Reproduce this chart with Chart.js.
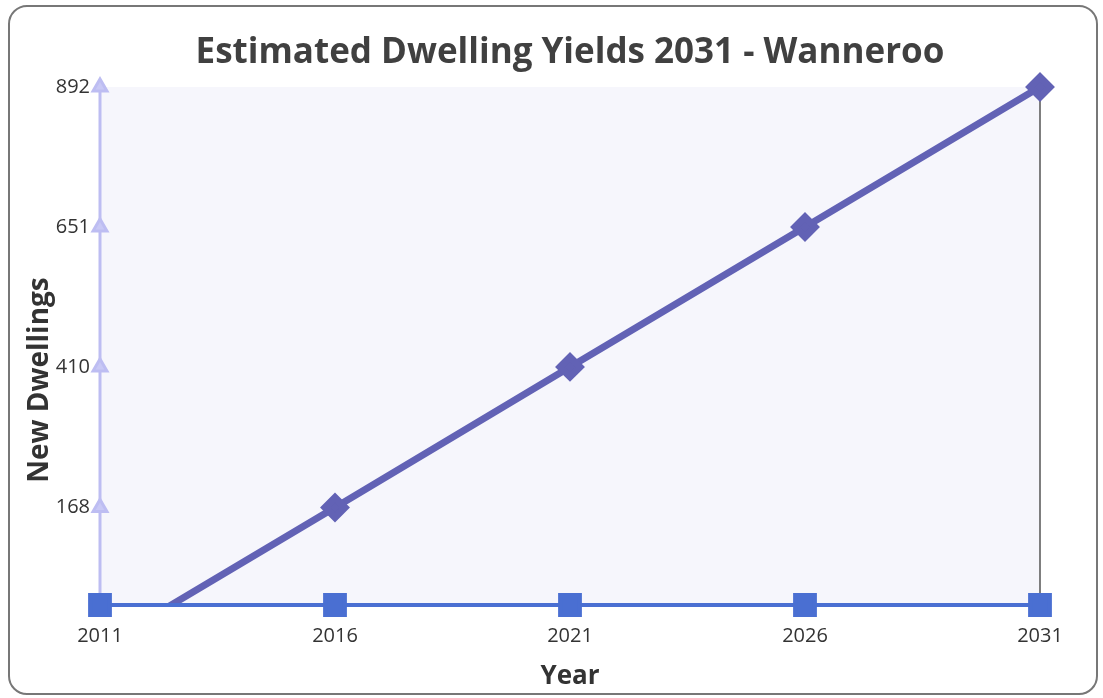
<!DOCTYPE html>
<html>
<head>
<meta charset="utf-8">
<script src="https://cdn.jsdelivr.net/npm/chart.js@4"></script>
<style>
  html, body { margin: 0; padding: 0; background: #fff; }
  #wrap { width: 1103px; height: 698px; }
</style>
</head>
<body>
<div id="wrap"><canvas id="container"></canvas></div>
<script>
const years = ['2011', '2016', '2021', '2026', '2031'];
const newDwellings = [-73, 168, 410, 651, 892];
const baseline = [0, 0, 0, 0, 0];
const yTicks = [168, 410, 651, 892];

const font = 'Open Sans';

// plot background, y title (sits lower than the scale centre) and rounded border
const frame = {
    id: 'frame',
    beforeDraw(chart) {
        const { ctx, chartArea } = chart;
        ctx.save();
        ctx.fillStyle = '#f6f6fc';
        ctx.fillRect(chartArea.left, chartArea.top, chartArea.right - chartArea.left, chartArea.bottom - chartArea.top);
        ctx.restore();
    },
    afterDraw(chart) {
        const ctx = chart.ctx;
        ctx.save();
        ctx.translate(40, 380);
        ctx.rotate(-Math.PI / 2);
        ctx.fillStyle = '#333';
        ctx.font = 'bold 28px "' + font + '"';
        ctx.textAlign = 'center';
        ctx.textBaseline = 'middle';
        ctx.fillText('New Dwellings', 0, 0);
        ctx.restore();

        ctx.save();
        ctx.strokeStyle = '#777';
        ctx.lineWidth = 2;
        ctx.beginPath();
        ctx.roundRect(9, 6, 1088, 688, 18);
        ctx.stroke();
        ctx.restore();
    }
};

const stateChart = new Chart(document.getElementById('container'), {
    type: 'line',
    data: {
        labels: years,
        datasets: [
            {
                label: 'baseline',
                data: baseline,
                borderColor: '#4a6fd2',
                backgroundColor: '#4a6fd2',
                borderWidth: 4,
                pointStyle: 'rect',
                pointRadius: 14,
                tension: 0,
                clip: false
            },
            {
                label: 'New Dwellings',
                data: newDwellings,
                borderColor: '#6262b5',
                backgroundColor: '#6262b5',
                borderWidth: 7,
                pointStyle: 'rectRot',
                pointRadius: 10,
                tension: 0,
                clip: { left: false, top: false, right: false, bottom: 0 }
            },
            {
                label: 'axis',
                data: [{ x: years[0], y: 0 }].concat(yTicks.map(v => ({ x: years[0], y: v }))),
                borderColor: '#bdbdf2',
                backgroundColor: '#c8c8f5',
                borderWidth: 3,
                pointStyle: 'triangle',
                pointRadius: [0, 8, 8, 8, 8],
                tension: 0,
                clip: false
            },
            {
                label: 'drop',
                data: [
                    { x: years[years.length - 1], y: 0 },
                    { x: years[years.length - 1], y: newDwellings[newDwellings.length - 1] }
                ],
                borderColor: '#555',
                borderWidth: 1.5,
                pointRadius: 0,
                tension: 0,
                clip: false
            }
        ]
    },
    options: {
        animation: false,
        responsive: true,
        maintainAspectRatio: false,
        layout: { padding: { left: 0, right: 63, top: 0, bottom: 0 } },
        plugins: {
            legend: { display: false },
            tooltip: { enabled: false },
            title: {
                display: true,
                fullSize: false,
                text: 'Estimated Dwelling Yields 2031 - Wanneroo',
                color: '#404040',
                font: { family: font, size: 35, weight: 'bold' },
                padding: { top: 32, bottom: 13 }
            }
        },
        scales: {
            x: {
                type: 'category',
                offset: false,
                grid: { display: false, drawTicks: false },
                border: { display: false },
                ticks: { color: '#333', font: { family: font, size: 20 }, padding: 19, maxRotation: 0 },
                title: {
                    display: true,
                    text: 'Year',
                    color: '#333',
                    font: { family: font, size: 26, weight: 'bold' },
                    padding: { top: 0, bottom: 6 }
                },
                afterFit(scale) { scale.height = 93; }
            },
            y: {
                min: 0,
                max: 892,
                grid: { display: false, drawTicks: false },
                border: { display: false },
                afterBuildTicks(scale) { scale.ticks = yTicks.map(v => ({ value: v })); },
                ticks: { color: '#333', font: { family: font, size: 20 }, padding: 10 },
                afterFit(scale) { scale.width = 100; }
            }
        }
    },
    plugins: [frame]
});
</script>
</body>
</html>
